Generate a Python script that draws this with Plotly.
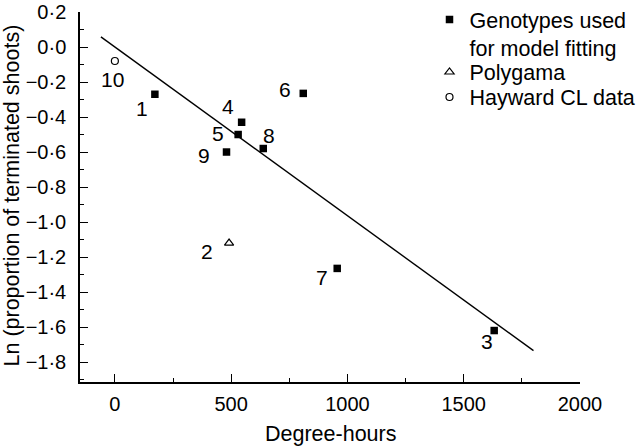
import plotly.graph_objects as go

# ---- data ----
fit_ids = ["1", "3", "4", "5", "6", "7", "8", "9"]
fit_x = [172, 1631, 545, 530, 810, 956, 638, 480]
fit_y = [-0.27, -1.62, -0.43, -0.50, -0.265, -1.265, -0.58, -0.60]

poly_ids = ["2"]
poly_x = [491]
poly_y = [-1.12]

hay_ids = ["10"]
hay_x = [0]
hay_y = [-0.08]

line_x = [-60, 1800]
line_y = [0.058, -1.735]

x_tickvals = [0, 500, 1000, 1500, 2000]
x_ticktext = ["0", "500", "1000", "1500", "2000"]
y_tickvals = [0.2, 0.0, -0.2, -0.4, -0.6, -0.8, -1.0, -1.2, -1.4, -1.6, -1.8]
y_ticktext = ["0·2", "0·0", "−0·2", "−0·4", "−0·6", "−0·8", "−1·0", "−1·2",
              "−1·4", "−1·6", "−1·8"]

x_title = "Degree-hours"
y_title = "Ln (proportion of terminated shoots)"

# ---- label placement (pixel offsets from each point) ----
label_offsets = {
    "1": (-13, -14), "2": (-22, -8), "3": (-7, -11), "4": (-14, 16),
    "5": (-20, 1), "6": (-18, 4), "7": (-15, -9), "8": (6, 13),
    "9": (-23, -3), "10": (-2, -18),
}

FONT = "Liberation Sans, Arial, sans-serif"
BIG = 21.5

fig = go.Figure()
fig.add_trace(go.Scatter(x=line_x, y=line_y, mode="lines",
                         line=dict(color="black", width=1.4),
                         showlegend=False, hoverinfo="skip"))
fig.add_trace(go.Scatter(x=fit_x, y=fit_y, mode="markers",
                         name="Genotypes used<br>for model fitting", legend="legend",
                         marker=dict(symbol="square", size=7.5, color="black")))
fig.add_trace(go.Scatter(x=poly_x, y=poly_y, mode="markers", name="Polygama",
                         legend="legend2",
                         marker=dict(symbol="triangle-up-open", size=8, color="black",
                                     line=dict(width=1.2, color="black"))))
fig.add_trace(go.Scatter(x=hay_x, y=hay_y, mode="markers", name="Hayward CL data",
                         legend="legend3",
                         marker=dict(symbol="circle-open", size=7, color="black",
                                     line=dict(width=1.2, color="black"))))

for ids, xs, ys in [(fit_ids, fit_x, fit_y), (poly_ids, poly_x, poly_y),
                    (hay_ids, hay_x, hay_y)]:
    for i, xv, yv in zip(ids, xs, ys):
        dx, dy = label_offsets[i]
        fig.add_annotation(x=xv, y=yv, text=i, showarrow=False,
                           xshift=dx, yshift=dy,
                           font=dict(family=FONT, size=21, color="black"))

# axis titles as annotations (plot area: x 80..580 px, y 12..382 px)
fig.add_annotation(xref="paper", yref="paper", x=0.5, y=(382 - 434) / 370,
                   text=x_title, showarrow=False, xanchor="center", yanchor="middle",
                   font=dict(family=FONT, size=BIG, color="black"))
fig.add_annotation(xref="paper", yref="paper", x=(11.5 - 80) / 500, y=(382 - 196) / 370,
                   text=y_title, showarrow=False, textangle=-90,
                   xanchor="center", yanchor="middle",
                   font=dict(family=FONT, size=BIG, color="black"))

leg_common = dict(xanchor="left", bgcolor="rgba(0,0,0,0)", borderwidth=0,
                  font=dict(family=FONT, size=BIG, color="black"))
fig.update_layout(
    width=640, height=447,
    margin=dict(l=80, r=60, t=12, b=65, autoexpand=False),
    paper_bgcolor="white", plot_bgcolor="white",
    font=dict(family=FONT, size=20, color="black"),
    legend=dict(x=0.699, y=(382 - 33.5) / 370, yanchor="middle", valign="top",
                **leg_common),
    legend2=dict(x=0.699, y=(382 - 72) / 370, yanchor="middle", **leg_common),
    legend3=dict(x=0.699, y=(382 - 97) / 370, yanchor="middle", **leg_common),
)
fig.update_xaxes(
    range=[-150, 2000], showgrid=False, zeroline=False, automargin=False,
    showline=True, linecolor="black", linewidth=1.5,
    tickmode="array", tickvals=x_tickvals, ticktext=x_ticktext,
    ticks="inside", ticklen=8, tickwidth=1.3, tickcolor="black",
    ticklabelstandoff=3,
    minor=dict(tick0=0, dtick=250, ticks="inside", ticklen=4,
               tickwidth=1.3, tickcolor="black", showgrid=False),
    tickfont=dict(family=FONT, size=20),
)
fig.update_yaxes(
    range=[-1.914, 0.2], showgrid=False, zeroline=False, automargin=False,
    showline=True, linecolor="black", linewidth=1.5,
    tickmode="array", tickvals=y_tickvals, ticktext=y_ticktext,
    ticks="inside", ticklen=8, tickwidth=1.3, tickcolor="black",
    ticklabelstandoff=8,
    minor=dict(tick0=0, dtick=0.1, ticks="inside", ticklen=4,
               tickwidth=1.3, tickcolor="black", showgrid=False),
    tickfont=dict(family=FONT, size=20),
)

fig.write_html("out.html",
               config={"displayModeBar": False},
               post_script="document.body.style.margin='0px';"
                           "document.body.style.overflow='hidden';")
